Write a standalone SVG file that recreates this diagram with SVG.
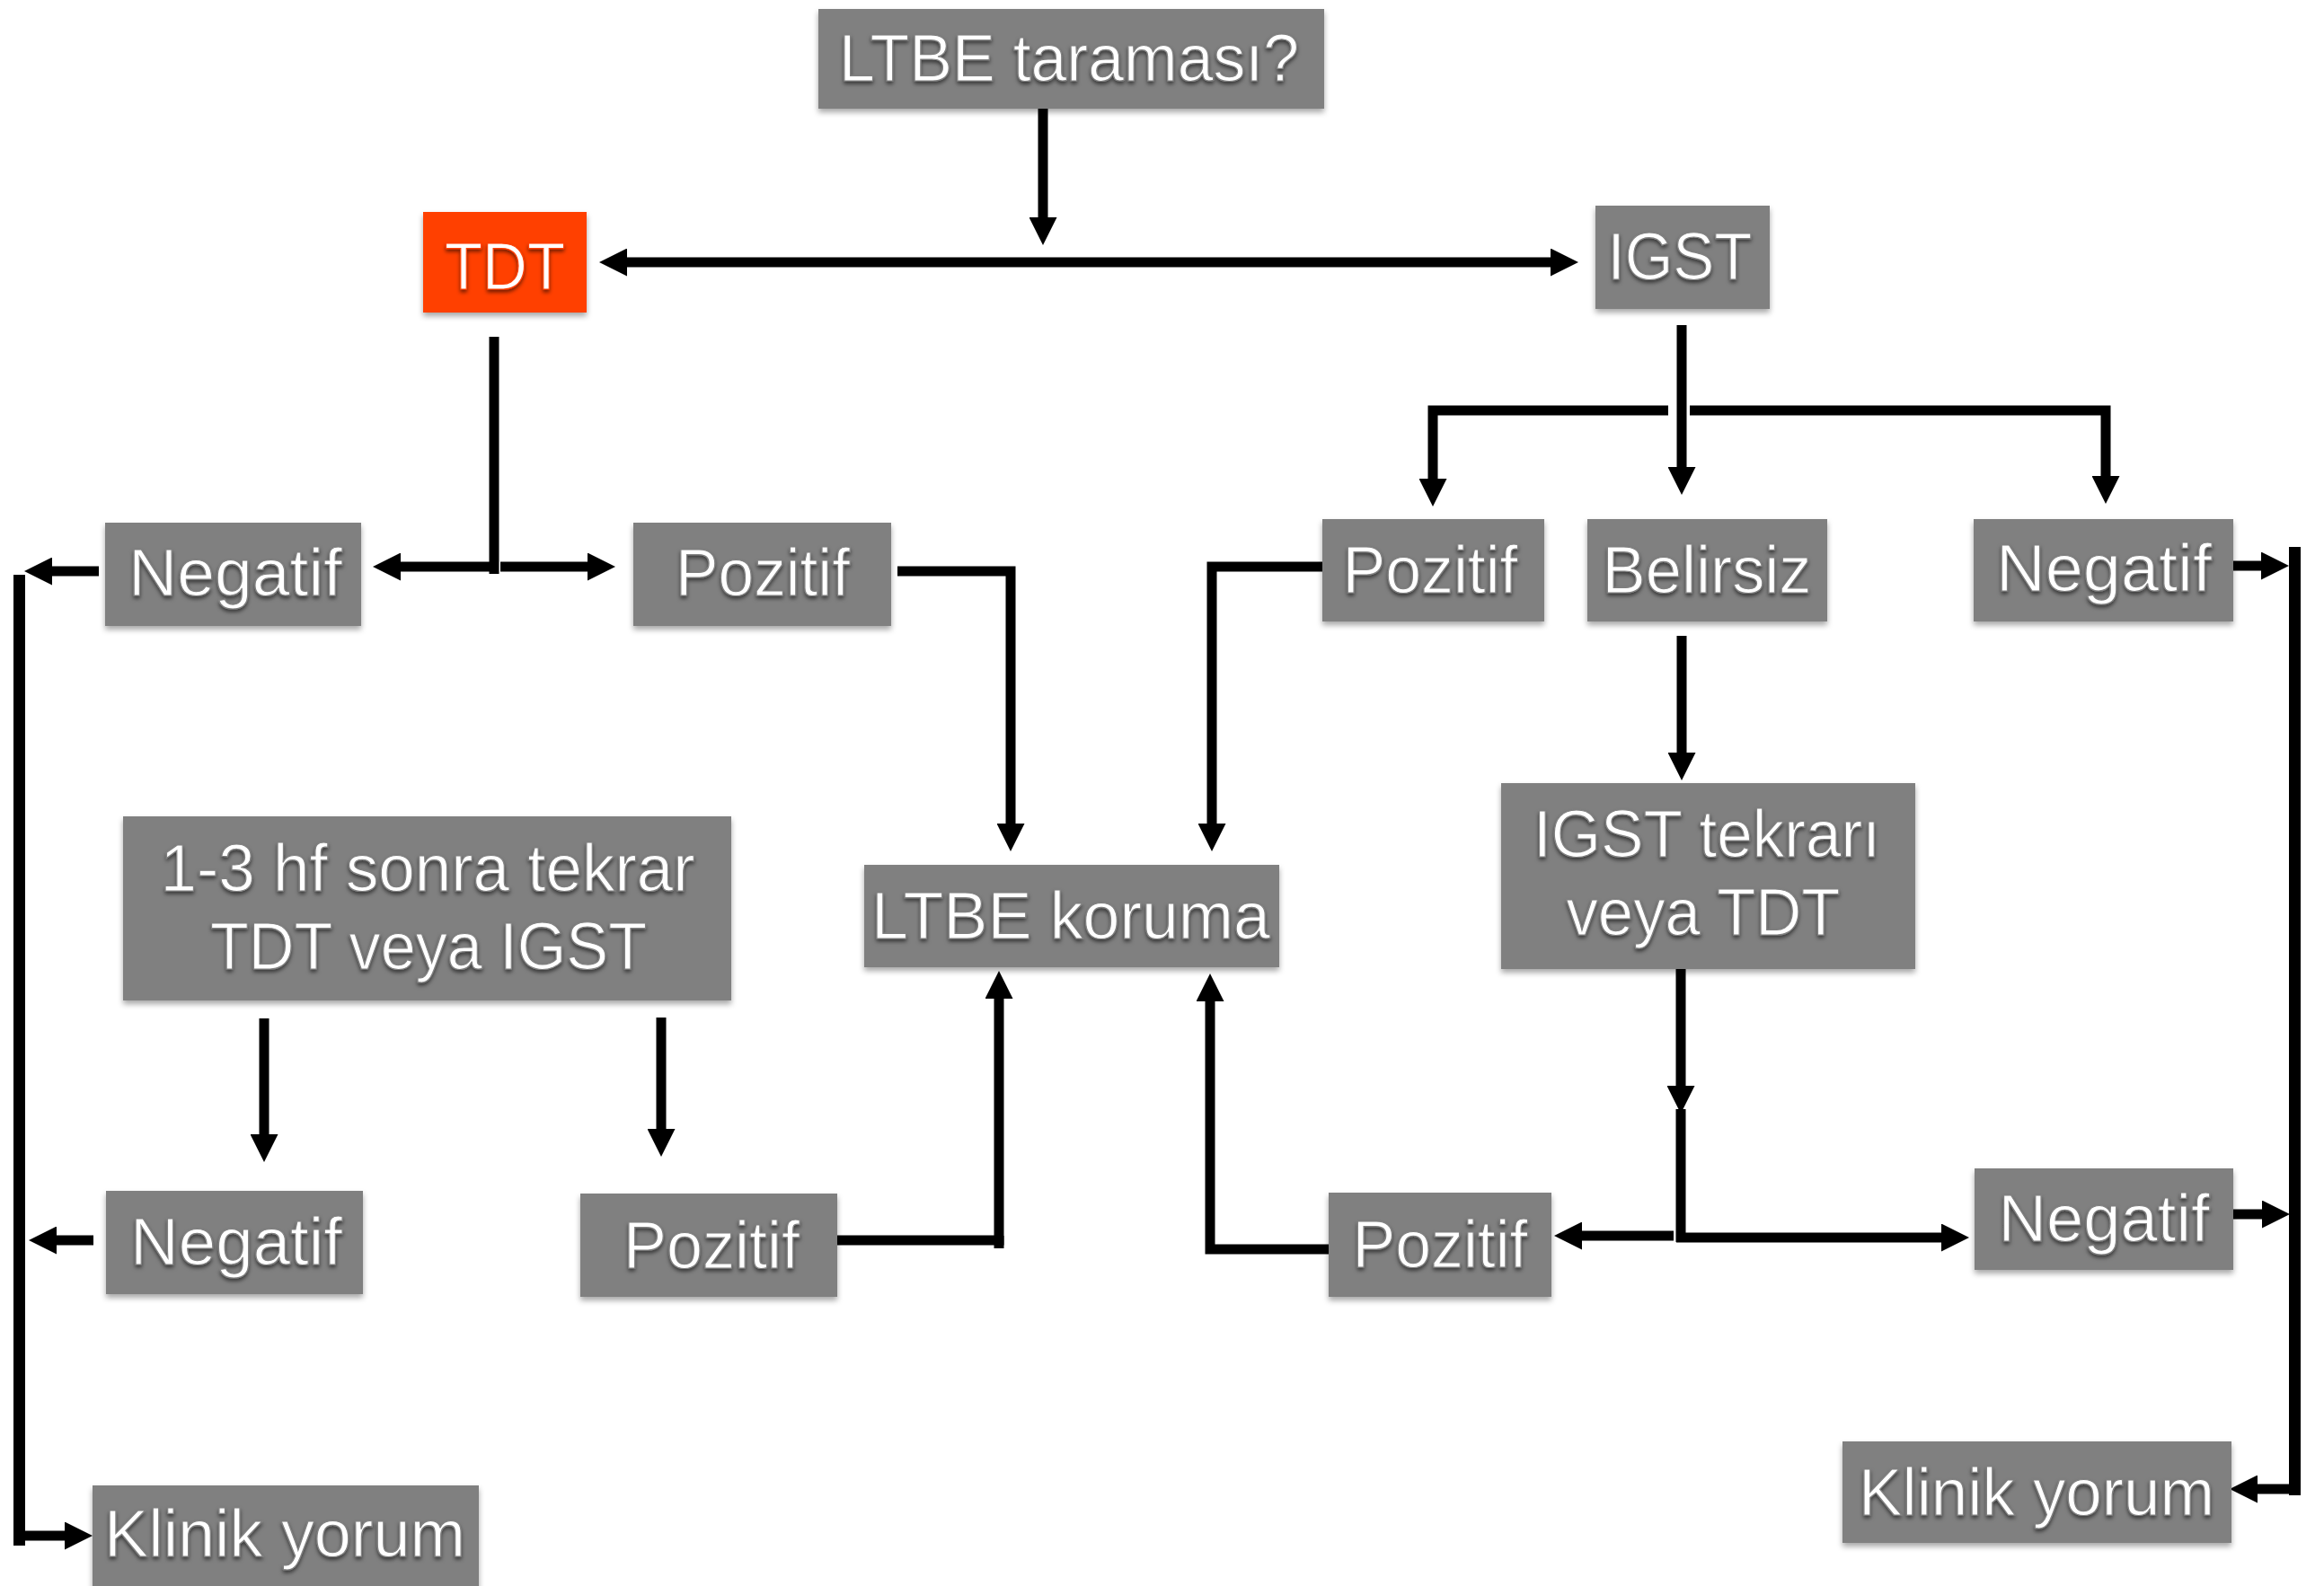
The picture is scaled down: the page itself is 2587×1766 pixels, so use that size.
<svg xmlns="http://www.w3.org/2000/svg" width="2587" height="1766" viewBox="0 0 2587 1766">
<defs>
<filter id="bs" x="-10%" y="-10%" width="120%" height="130%">
<feDropShadow dx="0" dy="4" stdDeviation="3" flood-color="#000" flood-opacity="0.35"/>
</filter>
<filter id="ts" x="-5%" y="-10%" width="110%" height="130%">
<feDropShadow dx="0" dy="3" stdDeviation="2" flood-color="#000" flood-opacity="0.55"/>
</filter>
<marker id="ah" markerUnits="userSpaceOnUse" markerWidth="31" markerHeight="31" viewBox="0 0 31 31" refX="1" refY="15.5" orient="auto-start-reverse">
<path d="M0,0 L31,15.5 L0,31 z" fill="#000"/>
</marker>
</defs>
<style>
.box{fill:#808080;filter:url(#bs)}
.tdt{fill:#FF3F00;filter:url(#bs)}
.t{fill:#fff;stroke:#808080;stroke-width:1.2;font-family:"Liberation Sans",Arial,sans-serif;font-size:75px;text-anchor:middle;filter:url(#ts)}
.tdt + .t{stroke:#FF3F00}
.c{fill:none;stroke:#000;stroke-linejoin:miter;stroke-linecap:butt}
.h{stroke-width:11}
.v{stroke-width:11}
.m{stroke-width:11}
.s{stroke-width:13}
.a{marker-end:url(#ah)}
</style>
<rect width="2587" height="1766" fill="#fff"/>
<g id="connectors">
<path class="c v a" d="M1161 118 V243"/>
<path class="c h a" style="marker-start:url(#ah)" d="M697 292 H1727"/>
<path class="c v" d="M550 375 V639"/>
<path class="c h a" d="M545 631 H445"/>
<path class="c h a" d="M557 631 H655"/>
<path class="c h a" d="M110 636 H57"/>
<path class="c s" d="M21.5 640 V1721"/>
<path class="c h a" d="M104 1381 H62"/>
<path class="c h a" d="M28 1710 H73"/>
<path class="c m a" d="M999 636 H1125 V918"/>
<path class="c m a" d="M1472 631 H1349 V918"/>
<path class="c v a" d="M1872 362 V521"/>
<path class="c m a" d="M1857 457 H1595 V534"/>
<path class="c m a" d="M1881 457 H2344 V531"/>
<path class="c h a" d="M2479 630 H2518"/>
<path class="c s" d="M2554.5 609 V1665"/>
<path class="c h a" d="M2480 1352 H2519"/>
<path class="c h a" d="M2554 1658 H2512"/>
<path class="c v a" d="M1872 708 V839"/>
<path class="c v a" d="M1871 1060 V1210"/>
<path class="c v" d="M1871 1235 V1383"/>
<path class="c h a" d="M1866 1378 H2162"/>
<path class="c h a" d="M1863 1376 H1760"/>
<path class="c m a" d="M1479 1391 H1347 V1114"/>
<path class="c m a" d="M932 1381 H1112 V1111"/>
<path class="c m" d="M1112 1390 V1376"/>
<path class="c v a" d="M294 1134 V1264"/>
<path class="c v a" d="M736 1133 V1258"/>
</g>
<g id="n-ltbe-tarama"><rect class="box" x="911" y="10" width="563" height="111"/><text class="t" x="1190" y="90" textLength="512" lengthAdjust="spacingAndGlyphs">LTBE taraması?</text></g>
<g id="n-tdt"><rect class="tdt" x="471" y="236" width="182" height="112"/><text class="t" x="562" y="322" textLength="134" lengthAdjust="spacingAndGlyphs">TDT</text></g>
<g id="n-igst"><rect class="box" x="1776" y="229" width="194" height="115"/><text class="t" x="1870" y="311" textLength="161" lengthAdjust="spacingAndGlyphs">IGST</text></g>
<g id="n-neg-tl"><rect class="box" x="117" y="582" width="285" height="115"/><text class="t" x="262" y="663" textLength="238" lengthAdjust="spacingAndGlyphs">Negatif</text></g>
<g id="n-poz-tl"><rect class="box" x="705" y="582" width="287" height="115"/><text class="t" x="849" y="663" textLength="194" lengthAdjust="spacingAndGlyphs">Pozitif</text></g>
<g id="n-poz-tr"><rect class="box" x="1472" y="578" width="247" height="114"/><text class="t" x="1592" y="660" textLength="195" lengthAdjust="spacingAndGlyphs">Pozitif</text></g>
<g id="n-belirsiz"><rect class="box" x="1767" y="578" width="267" height="114"/><text class="t" x="1900" y="660" textLength="233" lengthAdjust="spacingAndGlyphs">Belirsiz</text></g>
<g id="n-neg-tr"><rect class="box" x="2197" y="578" width="289" height="114"/><text class="t" x="2342" y="658" textLength="240" lengthAdjust="spacingAndGlyphs">Negatif</text></g>
<g id="n-tekrar"><rect class="box" x="137" y="909" width="677" height="205"/><text class="t" x="476" y="992" textLength="595" lengthAdjust="spacingAndGlyphs">1-3 hf sonra tekrar</text><text class="t" x="477" y="1079" textLength="486" lengthAdjust="spacingAndGlyphs">TDT veya IGST</text></g>
<g id="n-koruma"><rect class="box" x="962" y="963" width="462" height="114"/><text class="t" x="1192" y="1045" textLength="444" lengthAdjust="spacingAndGlyphs">LTBE koruma</text></g>
<g id="n-igst-tekrari"><rect class="box" x="1671" y="872" width="461" height="207"/><text class="t" x="1900" y="954" textLength="386" lengthAdjust="spacingAndGlyphs">IGST tekrarı</text><text class="t" x="1896" y="1041" textLength="305" lengthAdjust="spacingAndGlyphs">veya TDT</text></g>
<g id="n-neg-bl"><rect class="box" x="118" y="1326" width="286" height="115"/><text class="t" x="263" y="1408" textLength="236" lengthAdjust="spacingAndGlyphs">Negatif</text></g>
<g id="n-poz-bm"><rect class="box" x="646" y="1329" width="286" height="115"/><text class="t" x="792" y="1412" textLength="196" lengthAdjust="spacingAndGlyphs">Pozitif</text></g>
<g id="n-poz-br"><rect class="box" x="1479" y="1328" width="248" height="116"/><text class="t" x="1603" y="1411" textLength="195" lengthAdjust="spacingAndGlyphs">Pozitif</text></g>
<g id="n-neg-br"><rect class="box" x="2198" y="1301" width="288" height="113"/><text class="t" x="2342" y="1382" textLength="235" lengthAdjust="spacingAndGlyphs">Negatif</text></g>
<g id="n-klinik-l"><rect class="box" x="103" y="1654" width="430" height="116"/><text class="t" x="317" y="1733" textLength="402" lengthAdjust="spacingAndGlyphs">Klinik yorum</text></g>
<g id="n-klinik-r"><rect class="box" x="2051" y="1605" width="433" height="113"/><text class="t" x="2267" y="1687" textLength="396" lengthAdjust="spacingAndGlyphs">Klinik yorum</text></g>
</svg>
